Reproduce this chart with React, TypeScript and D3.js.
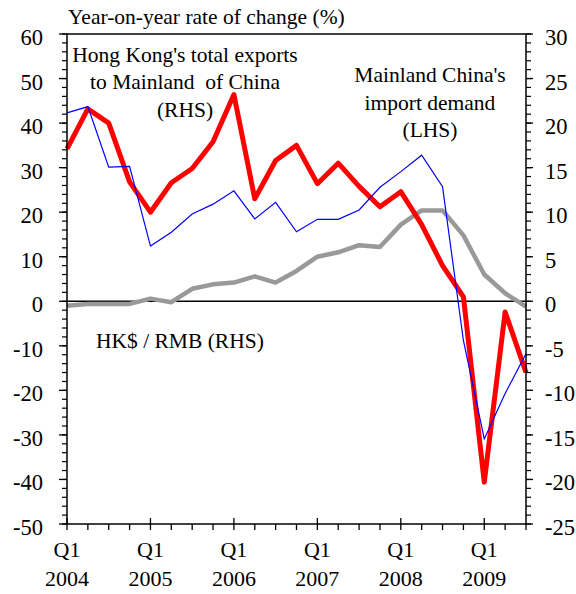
import React from "react";
import * as d3 from "d3";

const quarters = [
  "2004Q1","2004Q2","2004Q3","2004Q4",
  "2005Q1","2005Q2","2005Q3","2005Q4",
  "2006Q1","2006Q2","2006Q3","2006Q4",
  "2007Q1","2007Q2","2007Q3","2007Q4",
  "2008Q1","2008Q2","2008Q3","2008Q4",
  "2009Q1","2009Q2","2009Q3",
];
// Mainland China's import demand (LHS)
const mainlandImports = [42.3, 43.7, 30.1, 30.3, 12.4, 15.5, 19.6, 21.8, 24.8, 18.5, 22.2, 15.6, 18.4, 18.4, 20.5, 25.6, 29.1, 32.8, 25.7, -8.8, -30.9, -20.7, -11.8];
// Hong Kong's total exports to Mainland of China (RHS)
const hkExports = [17.1, 21.6, 20.0, 13.4, 10.0, 13.3, 14.9, 17.9, 23.2, 11.5, 15.8, 17.5, 13.2, 15.5, 12.9, 10.6, 12.3, 8.6, 4.0, 0.5, -20.3, -1.2, -8.0];
// HK$ / RMB (RHS)
const hkdRmb = [-0.5, -0.3, -0.3, -0.3, 0.3, -0.1, 1.4, 1.9, 2.1, 2.8, 2.1, 3.4, 5.0, 5.5, 6.3, 6.1, 8.6, 10.2, 10.2, 7.4, 3.0, 0.9, -0.6];

const leftTicks = [-50, -40, -30, -20, -10, 0, 10, 20, 30, 40, 50, 60];
const rightTicks = [-25, -20, -15, -10, -5, 0, 5, 10, 15, 20, 25, 30];
const yearLabels = ["2004", "2005", "2006", "2007", "2008", "2009"];

const W = 576, H = 594;
const L = 67, R = 526, T = 34, B = 524;
const FONT = "'Liberation Serif', 'Times New Roman', serif";

export default function App() {
  const x = d3.scalePoint<string>().domain(quarters).range([L, R]).padding(0);
  const yL = d3.scaleLinear().domain([-50, 60]).range([B, T]);
  const yR = d3.scaleLinear().domain([-25, 30]).range([B, T]);

  const lineL = d3.line<number>().x((_, i) => x(quarters[i])!).y((d) => yL(d));
  const lineR = d3.line<number>().x((_, i) => x(quarters[i])!).y((d) => yR(d));

  const leftMinor = d3.range(-50, 61, 2);
  const rightMinor = d3.range(-25, 31, 1);

  return (
    <svg width={W} height={H} style={{ position: "absolute", left: 0, top: 0, background: "#fff" }} fontFamily={FONT} fill="#000">
      <rect x={0} y={0} width={W} height={H} fill="#fff" />
      {/* zero line */}
      <line x1={L} x2={R} y1={yL(0)} y2={yL(0)} stroke="#000" strokeWidth={1.3} />

      {/* series */}
      <path d={lineR(hkdRmb)!} fill="none" stroke="#999999" strokeWidth={4.5} strokeLinejoin="round" />
      <path d={lineR(hkExports)!} fill="none" stroke="#ff0000" strokeWidth={5} strokeLinejoin="round" />
      <path d={lineL(mainlandImports)!} fill="none" stroke="#0000ff" strokeWidth={1.2} />

      {/* frame */}
      <rect x={L} y={T} width={R - L} height={B - T} fill="none" stroke="#000" strokeWidth={1.5} />

      {/* left ticks */}
      {leftMinor.map((v) => (
        <line key={"lm" + v} x1={L - 5} x2={L} y1={yL(v)} y2={yL(v)} stroke="#000" strokeWidth={1.2} />
      ))}
      {leftTicks.map((v) => (
        <g key={"l" + v}>
          <line x1={L - 8} x2={L} y1={yL(v)} y2={yL(v)} stroke="#000" strokeWidth={1.3} />
          <text x={43} y={yL(v) + 11} textAnchor="end" fontSize={22.5}>{v}</text>
        </g>
      ))}
      {/* right ticks */}
      {rightMinor.map((v) => (
        <line key={"rm" + v} x1={R} x2={R + 5} y1={yR(v)} y2={yR(v)} stroke="#000" strokeWidth={1.2} />
      ))}
      {rightTicks.map((v) => (
        <g key={"r" + v}>
          <line x1={R} x2={R + 7} y1={yR(v)} y2={yR(v)} stroke="#000" strokeWidth={1.3} />
          <text x={545} y={yR(v) + 11} textAnchor="start" fontSize={22.5}>{v}</text>
        </g>
      ))}
      {/* bottom ticks */}
      {quarters.map((q) => {
        const major = q.endsWith("Q1");
        return (
          <line key={"b" + q} x1={x(q)} x2={x(q)} y1={major ? B - 6 : B} y2={B + 6} stroke="#000" strokeWidth={1.3} />
        );
      })}
      {yearLabels.map((yr) => (
        <g key={"y" + yr}>
          <text x={x(yr + "Q1")} y={557} textAnchor="middle" fontSize={22}>Q1</text>
          <text x={x(yr + "Q1")} y={586} textAnchor="middle" fontSize={22}>{yr}</text>
        </g>
      ))}

      {/* titles / annotations */}
      <text x={68} y={24} fontSize={21.5}>Year-on-year rate of change (%)</text>
      <text textAnchor="middle" fontSize={21.5}>
        <tspan x={185} y={62}>Hong Kong's total exports</tspan>
        <tspan x={185} y={89} style={{ whiteSpace: "pre" }}>to Mainland  of China</tspan>
        <tspan x={185} y={117}>(RHS)</tspan>
      </text>
      <text textAnchor="middle" fontSize={21.5}>
        <tspan x={430} y={82}>Mainland China's</tspan>
        <tspan x={430} y={110}>import demand</tspan>
        <tspan x={430} y={137}>(LHS)</tspan>
      </text>
      <text x={96} y={348} fontSize={21.5}>HK$ / RMB (RHS)</text>
    </svg>
  );
}
